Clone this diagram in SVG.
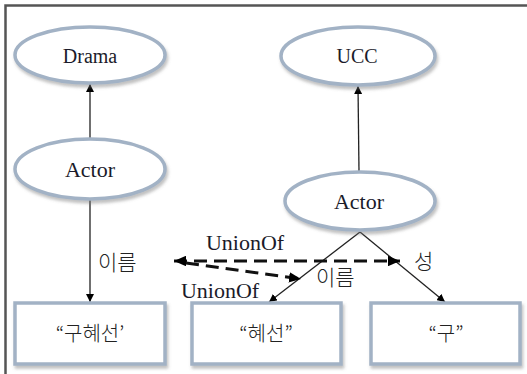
<svg xmlns="http://www.w3.org/2000/svg" width="527" height="374" viewBox="0 0 527 374">
<style>
.node{fill:#fff;stroke:#a2b2c5;stroke-width:3.5;filter:url(#sh)}
.lbl{fill:#1b1b2a;text-anchor:middle}
.kr{fill:#222;font-weight:300}
.edge{stroke:#222;stroke-width:1.3;fill:none}
.dash{stroke:#111;stroke-width:3;fill:none;stroke-dasharray:13 7}
</style>
<defs>
<filter id="sh" x="-20%" y="-20%" width="140%" height="150%">
<feDropShadow dx="1.5" dy="3" stdDeviation="1.5" flood-color="#777" flood-opacity="0.45"/>
</filter>
<marker id="ah" viewBox="0 0 10 10" refX="10" refY="5" markerWidth="8" markerHeight="8" markerUnits="userSpaceOnUse" orient="auto">
<path d="M0,0 L10,5 L0,10 z" fill="#000"/>
</marker>
<marker id="ahb" viewBox="0 0 10 10" refX="10" refY="5" markerWidth="4" markerHeight="3.5" orient="auto-start-reverse" preserveAspectRatio="none">
<path d="M0,0 L10,5 L0,10 z" fill="#000"/>
</marker>
</defs>
<rect x="0" y="0" width="527" height="374" fill="#fff"/>
<path d="M5.5,374 V5.5 H527" fill="none" stroke="#555" stroke-width="2.5"/>

<g id="connectors">
<line class="edge" x1="90" y1="139" x2="90" y2="84" marker-end="url(#ah)"/>
<line class="edge" x1="359" y1="172" x2="358" y2="86" marker-end="url(#ah)"/>
<line class="edge" x1="90" y1="200" x2="90" y2="302" marker-end="url(#ah)"/>
<line class="edge" x1="360" y1="232" x2="269" y2="302" marker-end="url(#ah)"/>
<line class="edge" x1="360" y1="232" x2="445" y2="302" marker-end="url(#ah)"/>
<line class="dash" x1="174" y1="261" x2="400" y2="261" marker-start="url(#ahb)" marker-end="url(#ahb)"/>
<line class="dash" x1="186" y1="263" x2="301" y2="279" marker-end="url(#ahb)"/>
<text class="lbl" font-family="Liberation Serif, serif" x="245" y="250" font-size="22">UnionOf</text>
<text class="lbl" font-family="Liberation Serif, serif" x="220" y="298" font-size="22">UnionOf</text>
<text class="kr" font-family="Noto Sans CJK KR, sans-serif" x="98" y="270" font-size="21">이름</text>
<text class="kr" font-family="Noto Sans CJK KR, sans-serif" x="316" y="285" font-size="21">이름</text>
<text class="kr" font-family="Noto Sans CJK KR, sans-serif" x="414" y="269" font-size="21">성</text>
</g>

<g id="drama">
<ellipse class="node" cx="90" cy="55" rx="75" ry="28"/>
<text class="lbl" font-family="Liberation Serif, serif" x="90" y="63" font-size="20">Drama</text>
</g>
<g id="actor1">
<ellipse class="node" cx="90" cy="169" rx="75" ry="30"/>
<text class="lbl" font-family="Liberation Serif, serif" x="90" y="177" font-size="22">Actor</text>
</g>
<g id="ucc">
<ellipse class="node" cx="358" cy="56" rx="77" ry="29"/>
<text class="lbl" font-family="Liberation Serif, serif" x="357" y="63" font-size="20">UCC</text>
</g>
<g id="actor2">
<ellipse class="node" cx="360" cy="201" rx="75" ry="29"/>
<text class="lbl" font-family="Liberation Serif, serif" x="359" y="209" font-size="22">Actor</text>
</g>
<g id="box1">
<rect class="node" x="15" y="303" width="150" height="61"/>
<text class="kr" font-family="Noto Sans CJK KR, sans-serif" x="90" y="341" font-size="20" text-anchor="middle">“구혜선’</text>
</g>
<g id="box2">
<rect class="node" x="192" y="303" width="149" height="61"/>
<text class="kr" font-family="Noto Sans CJK KR, sans-serif" x="266" y="341" font-size="20" text-anchor="middle">“혜선”</text>
</g>
<g id="box3">
<rect class="node" x="371" y="303" width="149" height="61"/>
<text class="kr" font-family="Noto Sans CJK KR, sans-serif" x="446" y="341" font-size="20" text-anchor="middle">“구”</text>
</g>
</svg>
